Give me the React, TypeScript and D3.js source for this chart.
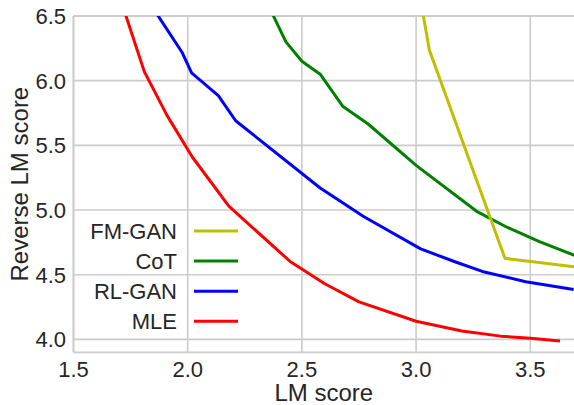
import React from "react";
import * as d3 from "d3";

const W = 574;
const H = 405;

const xTicks = [1.5, 2.0, 2.5, 3.0, 3.5];
const yTicks = [4.0, 4.5, 5.0, 5.5, 6.0, 6.5];

const mleX = [1.70, 1.81, 1.91, 2.02, 2.18, 2.45, 2.60, 2.75, 3.00, 3.20, 3.37, 3.50, 3.63];
const mleY = [6.66, 6.07, 5.73, 5.41, 5.03, 4.60, 4.43, 4.29, 4.14, 4.065, 4.025, 4.008, 3.988];

const rlX = [1.83, 1.975, 2.017, 2.134, 2.21, 2.58, 2.77, 3.02, 3.17, 3.29, 3.48, 3.69];
const rlY = [6.61, 6.22, 6.06, 5.885, 5.69, 5.17, 4.95, 4.70, 4.60, 4.525, 4.446, 4.385];

const cotX = [2.34, 2.43, 2.50, 2.58, 2.68, 2.79, 3.00, 3.265, 3.40, 3.54, 3.70];
const cotY = [6.63, 6.30, 6.15, 6.05, 5.80, 5.665, 5.345, 4.99, 4.865, 4.755, 4.645];

const fmX = [3.02, 3.058, 3.389, 3.70];
const fmY = [6.62, 6.237, 4.627, 4.56];

const seriesNames = ["MLE", "RL-GAN", "CoT", "FM-GAN"];
const seriesColors = ["#ff0000", "#0000ff", "#008000", "#bfbf00"];
const seriesXs = [mleX, rlX, cotX, fmX];
const seriesYs = [mleY, rlY, cotY, fmY];
const legendOrder = ["FM-GAN", "CoT", "RL-GAN", "MLE"];

const left = 73.5;
const right = 574;
const top = 16;
const bottom = 352.3;

const TEXT = "#262626";
const GRID = "#cccccc";
const FONT = "Arial, 'Liberation Sans', Helvetica, sans-serif";

export default function App() {
  const x = d3.scaleLinear().domain([1.5, 1.5 + (right - left) / 228.4]).range([left, right]);
  const y = d3.scaleLinear().domain([3.9, 6.5]).range([bottom, top]);

  const line = d3
    .line<[number, number]>()
    .x((d) => x(d[0]))
    .y((d) => y(d[1]));

  return (
    <svg
      width={W}
      height={H}
      style={{ position: "absolute", left: 0, top: 0, background: "#fff" }}
      fontFamily={FONT}
    >
      <defs>
        <clipPath id="plot">
          <rect x={left} y={top} width={right - left + 10} height={bottom - top} />
        </clipPath>
      </defs>
      <rect x={0} y={0} width={W} height={H} fill="#fff" />
      {/* grid */}
      {xTicks.map((t) => (
        <line key={"gx" + t} x1={x(t)} x2={x(t)} y1={top} y2={bottom} stroke={GRID} strokeWidth={1.6} />
      ))}
      {yTicks.map((t) => (
        <line key={"gy" + t} x1={left} x2={W} y1={y(t)} y2={y(t)} stroke={GRID} strokeWidth={1.6} />
      ))}
      {/* spines */}
      <line x1={left} x2={left} y1={top} y2={bottom} stroke={GRID} strokeWidth={1.8} />
      <line x1={left} x2={W} y1={bottom} y2={bottom} stroke={GRID} strokeWidth={1.8} />
      <line x1={left} x2={W} y1={top} y2={top} stroke={GRID} strokeWidth={1.8} />

      {/* series */}
      <g clipPath="url(#plot)">
        {seriesNames.map((name, i) => {
          const pts: [number, number][] = seriesXs[i].map((v, j) => [v, seriesYs[i][j]]);
          return (
            <path
              key={name}
              d={line(pts) || ""}
              fill="none"
              stroke={seriesColors[i]}
              strokeWidth={3}
              strokeLinejoin="round"
            />
          );
        })}
      </g>

      {/* x tick labels */}
      {xTicks.map((t) => (
        <text key={"tx" + t} x={x(t)} y={376.5} textAnchor="middle" fontSize={22} fill={TEXT}>
          {t.toFixed(1)}
        </text>
      ))}
      {/* y tick labels */}
      {yTicks.map((t) => (
        <text key={"ty" + t} x={66} y={y(t)} dy="0.36em" textAnchor="end" fontSize={22} fill={TEXT}>
          {t.toFixed(1)}
        </text>
      ))}

      {/* axis labels */}
      <text x={(left + right) / 2} y={400.5} textAnchor="middle" fontSize={24} fill={TEXT}>
        LM score
      </text>
      <text
        transform={`translate(27.5, ${(top + bottom) / 2}) rotate(-90)`}
        textAnchor="middle"
        fontSize={24}
        fill={TEXT}
      >
        Reverse LM score
      </text>

      {/* legend */}
      {legendOrder.map((name, k) => {
        const i = seriesNames.indexOf(name);
        const cy = 231 + k * 30.1;
        return (
          <g key={"lg" + name}>
            <text x={177} y={cy} dy="0.36em" textAnchor="end" fontSize={22} fill={TEXT}>
              {name}
            </text>
            <line x1={194} x2={238} y1={cy} y2={cy} stroke={seriesColors[i]} strokeWidth={3} />
          </g>
        );
      })}
    </svg>
  );
}
